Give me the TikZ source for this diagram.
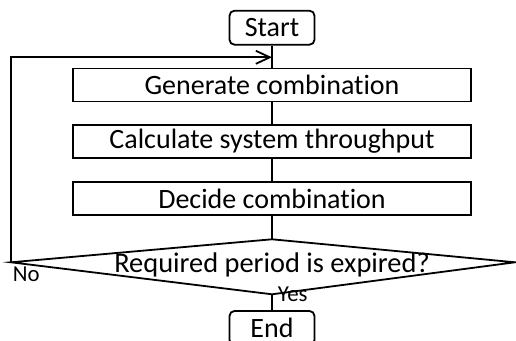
\documentclass[tikz,border=0pt]{standalone}
\usepackage{fontspec}
\setmainfont[Ligatures=NoCommon]{Carlito}
\usepackage{tikz}
\usetikzlibrary{arrows.meta, positioning}

\begin{document}
\begin{tikzpicture}[x=0.5pt, y=-0.5pt, line width=0.9pt,
    proc/.style={draw, minimum width=199pt, minimum height=16.5pt, inner sep=0pt, font=\fontsize{14}{16}\selectfont},
    term/.style={draw, rounded corners=2.5pt, minimum width=42.5pt, minimum height=17pt, inner sep=0pt, font=\fontsize{14}{16}\selectfont},
    lbl/.style={inner sep=0pt, font=\fontsize{11.4}{13}\selectfont}]
    \useasboundingbox (0,0) rectangle (516,341);

    % terminals and steps
    \node[term] (start) at (272, 27.7) {Start};
    \node[proc] (gen) at (272, 85) {Generate combination};
    \node[proc] (calc) at (272, 141.3) {Calculate system throughput};
    \node[proc] (dec) at (272, 198.7) {Decide combination};
    \node[term] (stop) at (272, 328) {End};

    % condition
    \coordinate (ctop) at (272, 239.3);
    \coordinate (cleft) at (11, 262.3);
    \coordinate (cright) at (515, 262.3);
    \coordinate (cbot) at (272, 294.3);
    \draw (ctop) -- (cright) -- (cbot) -- (cleft) -- cycle;
    \node[anchor=base, inner sep=0pt, font=\fontsize{14.2}{16}\selectfont] (cond) at (272, 273) {Required period is expired?};

    % flow
    \draw (start) -- (gen);
    \draw (gen) -- (calc);
    \draw (calc) -- (dec);
    \draw (dec) -- (ctop);
    \draw (cbot) -- (stop);

    % back to the start
    \coordinate (join) at (272, 57.3);
    \draw[-{Straight Barb[length=7pt, width=6.5pt]}] (cleft) |- (join);

    \node[lbl, anchor=base west] (no) at (12, 282) {No};
    \node[lbl, anchor=base west] (yes) at (277, 302) {Yes};
\end{tikzpicture}
\end{document}
